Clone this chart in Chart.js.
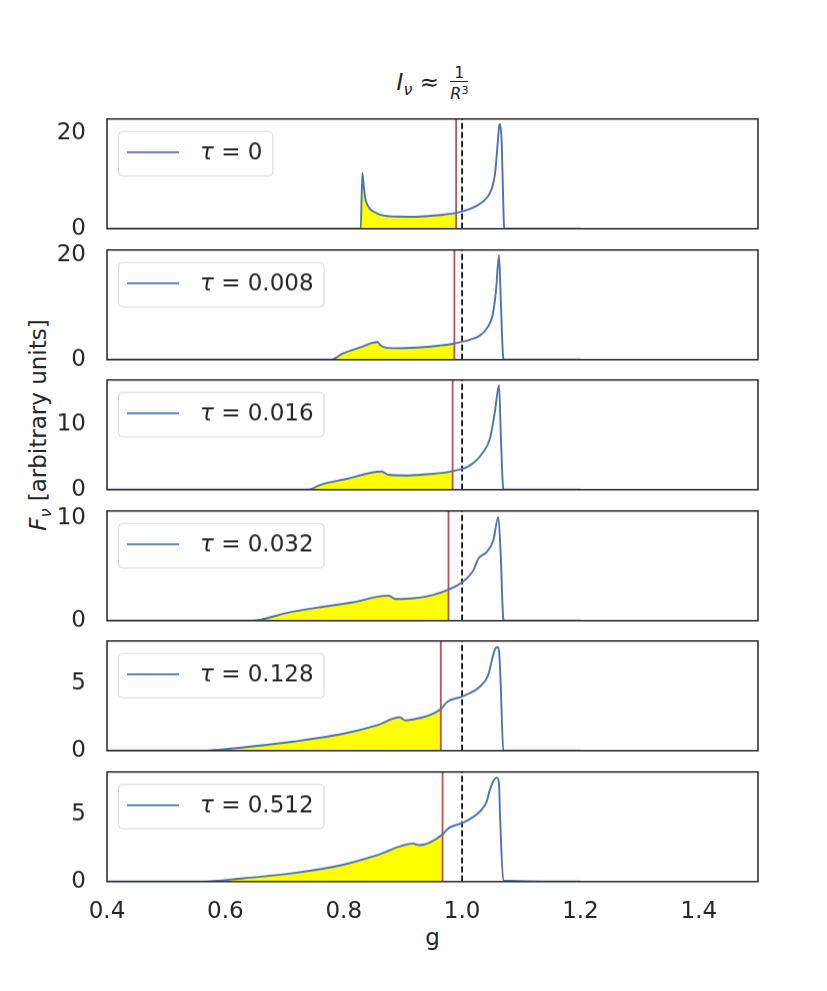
<!DOCTYPE html>
<html>
<head>
<meta charset="utf-8">
<script src="https://cdn.jsdelivr.net/npm/chart.js@4.4.1/dist/chart.umd.min.js"></script>
<style>
  body { margin: 0; background: #fff; width: 827px; height: 991px; position: relative; overflow: hidden;
         font-family: "DejaVu Sans", sans-serif; color: #262626; }
  .panel { position: absolute; left: 0; width: 827px; }
  #title { position: absolute; left: 0; width: 865px; top: 64px; text-align: center; font-size: 23px; line-height: 30px; }
  #title sub { font-size: 16px; vertical-align: -5px; }
  .frac { display: inline-block; vertical-align: middle; font-size: 16px; line-height: 17px; text-align: center; margin-left: 4px; }
  .frac .num { display: block; border-bottom: 1.2px solid #262626; padding: 0 3px; }
  .frac .den { display: block; }
  .frac sup { font-size: 11px; vertical-align: 5px; }
  #ylab { position: absolute; left: 40px; top: 425px; transform: translate(-50%, -50%) rotate(-90deg);
          white-space: nowrap; font-size: 23px; }
  #ylab sub { font-size: 16px; vertical-align: -5px; }
  #xlab { position: absolute; left: 0; width: 865px; top: 922px; text-align: center; font-size: 23px; line-height: 30px; }
</style>
</head>
<body>
<div id="title"><i>I</i><sub><i>ν</i></sub> ≈ <span class="frac"><span class="num">1</span><span class="den"><i>R</i><sup>3</sup></span></span></div>
<div id="ylab"><i>F</i><sub><i>ν</i></sub> [arbitrary units]</div>
<div id="xlab">g</div>
<script>
// optical depth of each panel, top to bottom
const taus = ['0', '0.008', '0.016', '0.032', '0.128', '0.512'];
const redLines = [0.990, 0.987, 0.984, 0.977, 0.964, 0.967];
const yMaxes = [23.0, 21.0, 16.9, 10.7, 8.2, 8.2];
const yTicks = [[0, 20], [0, 20], [0, 10], [0, 10], [0, 5], [0, 5]];
const xTicks = [0.4, 0.6, 0.8, 1.0, 1.2, 1.4];

// line profiles
const g1 = [0.4, 0.8287, 0.8315, 0.8332, 0.836, 0.8388, 0.8444, 0.8529, 0.8613, 0.890, 0.923, 0.957, 0.990, 1.0134, 1.030, 1.0416, 1.050, 1.0556, 1.0596, 1.063, 1.0642, 1.067, 1.0692, 1.0708, 1.072, 1.2];
const fv1 = [0, 0, 11.7, 9.75, 6.6, 5.33, 4.14, 3.44, 2.95, 2.53, 2.5, 2.8, 3.3, 4.14, 5.2, 6.45, 8.35, 11.5, 17.1, 21.7, 21.9, 17.8, 7.3, 0.6, 0, 0];

const g2 = [0.4, 0.778, 0.7993, 0.8275, 0.8568, 0.8613, 0.867, 0.8838, 0.9233, 0.9627, 0.987, 1.0134, 1.0303, 1.0416, 1.0518, 1.0573, 1.0624, 1.0658, 1.0697, 1.072, 1.2];
const fv2 = [0, 0, 1.23, 2.33, 3.37, 2.85, 2.46, 2.2, 2.33, 2.72, 3.1, 3.82, 4.66, 5.96, 8.67, 13.2, 20.0, 9.97, 0.25, 0, 0];

const g3 = [0.4, 0.7402, 0.7599, 0.805, 0.8642, 0.8698, 0.8754, 0.9064, 0.9458, 0.984, 1.0134, 1.0359, 1.0472, 1.0556, 1.0624, 1.0658, 1.0697, 1.072, 1.2];
const fv3 = [0, 0, 0.73, 1.67, 2.81, 2.55, 2.29, 2.19, 2.4, 2.86, 3.75, 5.83, 7.92, 12.1, 16.1, 7.4, 0.1, 0, 0];

const g4 = [0.4, 0.6445, 0.7037, 0.7599, 0.8162, 0.8736, 0.8794, 0.8867, 0.9176, 0.9514, 0.977, 0.9994, 1.019, 1.0274, 1.0416, 1.0528, 1.0612, 1.0653, 1.0697, 1.072, 1.2];
const fv4 = [0, 0, 0.75, 1.31, 1.8, 2.45, 2.38, 2.12, 2.19, 2.52, 3.04, 3.7, 4.9, 6.05, 6.7, 7.84, 10.13, 6.37, 0.17, 0, 0];

const g5 = [0.4, 0.5571, 0.6303, 0.7148, 0.7993, 0.8557, 0.8951, 0.9036, 0.9289, 0.9487, 0.964, 0.975, 0.9994, 1.0303, 1.0443, 1.05, 1.0556, 1.0595, 1.0629, 1.0653, 1.0697, 1.2];
const fv5 = [0, 0, 0.25, 0.68, 1.26, 1.89, 2.5, 2.27, 2.45, 2.73, 3.1, 3.66, 4.04, 4.8, 5.68, 6.69, 7.58, 7.75, 7.2, 4.9, 0, 0];

const g6 = [0.4, 0.5571, 0.6303, 0.7148, 0.7993, 0.8557, 0.9176, 0.9221, 0.9289, 0.9458, 0.967, 0.9784, 0.9994, 1.0303, 1.0416, 1.0472, 1.0545, 1.0595, 1.0624, 1.0641, 1.0697, 1.2];
const fv6 = [0, 0, 0.25, 0.63, 1.26, 1.97, 2.85, 2.78, 2.73, 2.93, 3.54, 4.04, 4.37, 5.25, 6.0, 6.9, 7.65, 7.78, 7.27, 5.0, 0.08, 0];

const gSeries = [g1, g2, g3, g4, g5, g6];
const fvSeries = [fv1, fv2, fv3, fv4, fv5, fv6];

const panelTops = [119, 250, 380, 511, 641, 772];
const PANEL_H = 109;
const TEXT = '#262626';

Chart.defaults.font.family = '"DejaVu Sans", sans-serif';
Chart.defaults.font.size = 23;
Chart.defaults.color = TEXT;

// box around the axes, like matplotlib spines
const frame = {
    id: 'frame',
    afterDatasetsDraw(chart) {
        const a = chart.chartArea;
        const ctx = chart.ctx;
        ctx.save();
        ctx.strokeStyle = TEXT;
        ctx.lineWidth = 1.5;
        ctx.strokeRect(a.left, a.top, a.right - a.left, a.bottom - a.top);
        ctx.restore();
    }
};

// legend in the upper left corner, with a rounded frame
const tauLegend = {
    id: 'tauLegend',
    afterDraw(chart, args, opts) {
        const a = chart.chartArea;
        const ctx = chart.ctx;
        const x = a.left + 11, y = a.top + 12, h = 44;
        ctx.save();
        ctx.font = 'italic 23px "DejaVu Sans"';
        const w1 = ctx.measureText('τ').width;
        ctx.font = '23px "DejaVu Sans"';
        const rest = ' = ' + opts.tau;
        const w2 = ctx.measureText(rest).width;
        const w = 82 + w1 + w2 + 10;
        ctx.beginPath();
        ctx.roundRect(x + 0.5, y + 0.5, w, h, 4);
        ctx.fillStyle = 'rgba(255,255,255,0.8)';
        ctx.fill();
        ctx.strokeStyle = '#d6d6d6';
        ctx.lineWidth = 1;
        ctx.stroke();
        const cy = y + h / 2 - 1;
        ctx.beginPath();
        ctx.moveTo(x + 9, cy);
        ctx.lineTo(x + 61, cy);
        ctx.strokeStyle = '#4C72B0';
        ctx.lineWidth = 1.8;
        ctx.stroke();
        ctx.fillStyle = TEXT;
        ctx.textBaseline = 'middle';
        ctx.font = 'italic 23px "DejaVu Sans"';
        ctx.fillText('τ', x + 82, cy + 1);
        ctx.font = '23px "DejaVu Sans"';
        ctx.fillText(rest, x + 82 + w1, cy + 1);
        ctx.restore();
    }
};

gSeries.forEach((g, i) => {
    const pts = g.map((x, k) => ({ x: x, y: fvSeries[i][k] }));
    const fillPts = pts.filter(p => p.x <= redLines[i] + 1e-9);
    const last = i === gSeries.length - 1;

    const div = document.createElement('div');
    div.className = 'panel';
    div.style.top = (panelTops[i] - 20) + 'px';
    div.style.height = (PANEL_H + 40 + (last ? 42 : 0)) + 'px';
    const cv = document.createElement('canvas');
    div.appendChild(cv);
    document.body.appendChild(div);

    const chart = new Chart(cv, {
        type: 'line',
        data: {
            datasets: [
                { data: pts, borderColor: '#4C72B0', borderWidth: 1.9, pointRadius: 0, fill: false,
                  cubicInterpolationMode: 'monotone' },
                { data: [{ x: 1, y: 0 }, { x: 1, y: yMaxes[i] }], borderColor: '#000', borderWidth: 1.7,
                  borderDash: [6, 3], pointRadius: 0, fill: false },
                { data: [{ x: redLines[i], y: 0 }, { x: redLines[i], y: yMaxes[i] }], borderColor: '#C44E52',
                  borderWidth: 1.8, pointRadius: 0, fill: false },
                { data: fillPts, borderColor: 'rgba(0,0,0,0)', borderWidth: 0, backgroundColor: '#FFFF00',
                  fill: 'origin', pointRadius: 0, cubicInterpolationMode: 'monotone' }
            ]
        },
        options: {
            responsive: true,
            maintainAspectRatio: false,
            animation: false,
            layout: { padding: { left: 0, right: 69, top: 0, bottom: 0 } },
            plugins: {
                legend: { display: false },
                tooltip: { enabled: false },
                tauLegend: { tau: taus[i] }
            },
            scales: {
                x: {
                    type: 'linear', min: 0.4, max: 1.5, display: last,
                    grid: { display: false }, border: { display: false },
                    ticks: { padding: 8, maxRotation: 0, callback: v => v.toFixed(1) },
                    afterBuildTicks: s => { s.ticks = xTicks.map(v => ({ value: v })); },
                    afterFit: s => { s.height = last ? 42 : 0; }
                },
                y: {
                    min: 0, max: yMaxes[i],
                    grid: { display: false }, border: { display: false },
                    ticks: { padding: 13 },
                    afterBuildTicks: s => { s.ticks = yTicks[i].map(v => ({ value: v })); },
                    afterFit: s => { s.width = 107; }
                }
            }
        },
        plugins: [frame, tauLegend]
    });

    // line the plot area up with the panel box
    const area = chart.chartArea;
    const dh = PANEL_H - (area.bottom - area.top);
    div.style.height = (div.offsetHeight + dh) + 'px';
    chart.resize();
    div.style.top = (panelTops[i] - chart.chartArea.top) + 'px';
});
</script>
</body>
</html>
